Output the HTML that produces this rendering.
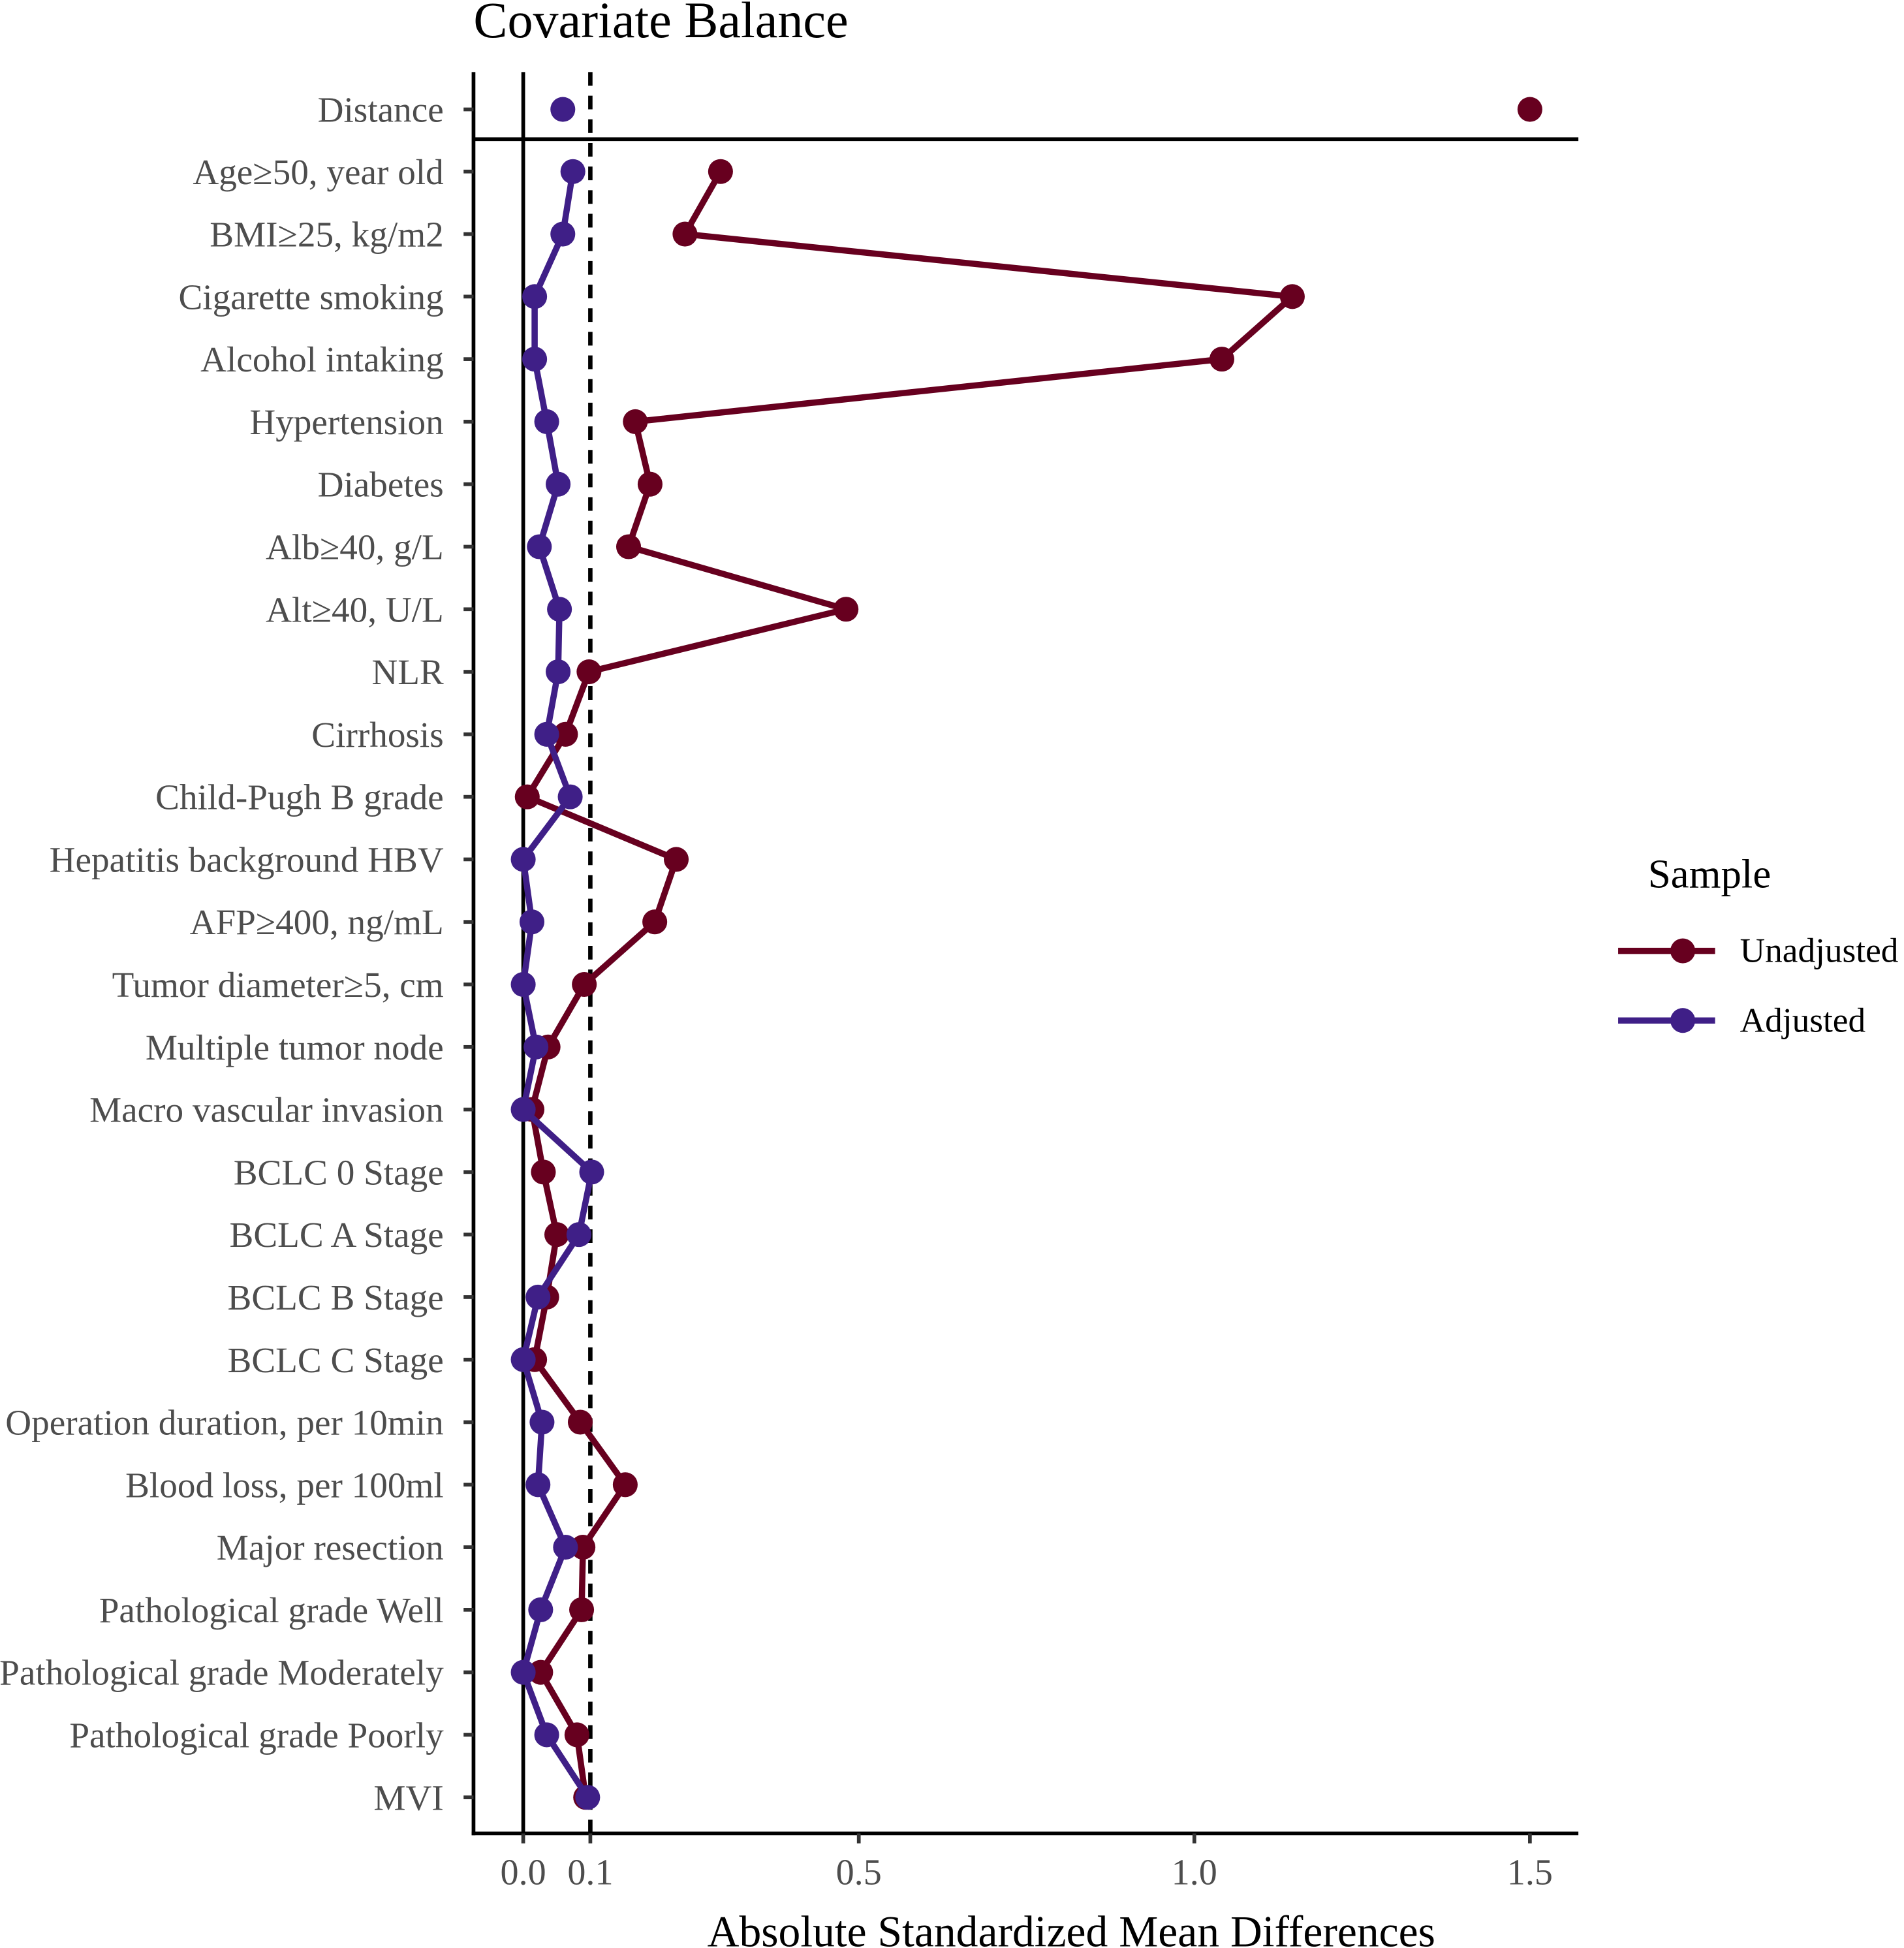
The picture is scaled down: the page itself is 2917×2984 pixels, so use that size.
<!DOCTYPE html>
<html><head><meta charset="utf-8"><style>
html,body{margin:0;padding:0;background:#fff;}
svg{display:block;font-family:"Liberation Serif",serif;}
</style></head><body>
<svg id="chart" width="2917" height="2984" viewBox="0 0 1532 1567.2" xmlns="http://www.w3.org/2000/svg">
<rect x="0" y="0" width="1532" height="1568" fill="#fff"/>
<text x="381" y="30" font-size="41" fill="#000">Covariate Balance</text>
<g id="plot"></g>
<text x="862" y="1566" font-size="35.5" text-anchor="middle" fill="#000">Absolute Standardized Mean Differences</text>
<g>
<text x="1326" y="714" font-size="33" fill="#000">Sample</text>
<g>
<line x1="1302" y1="765" x2="1380" y2="765" stroke="#67001f" stroke-width="5"/>
<circle cx="1354" cy="765" r="10" fill="#67001f"/>
<text x="1400" y="774" font-size="28" fill="#000">Unadjusted</text></g>
<g>
<line x1="1302" y1="821" x2="1380" y2="821" stroke="#3f1f87" stroke-width="5"/>
<circle cx="1354" cy="821" r="10" fill="#3f1f87"/>
<text x="1400" y="830" font-size="28" fill="#000">Adjusted</text></g>
</g>
</svg>
<script>
const categories=["Distance","Age≥50, year old","BMI≥25, kg/m2","Cigarette smoking","Alcohol intaking","Hypertension","Diabetes","Alb≥40, g/L","Alt≥40, U/L","NLR","Cirrhosis","Child-Pugh B grade","Hepatitis background HBV","AFP≥400, ng/mL","Tumor diameter≥5, cm","Multiple tumor node","Macro vascular invasion","BCLC 0 Stage","BCLC A Stage","BCLC B Stage","BCLC C Stage","Operation duration, per 10min","Blood loss, per 100ml","Major resection","Pathological grade Well","Pathological grade Moderately","Pathological grade Poorly","MVI"];
const unadjusted=[1.5,0.294,0.241,1.146,1.041,0.167,0.189,0.157,0.481,0.098,0.063,0.006,0.228,0.196,0.091,0.037,0.013,0.030,0.050,0.035,0.017,0.085,0.152,0.089,0.087,0.026,0.080,0.093];
const adjusted=[0.059,0.074,0.059,0.017,0.017,0.035,0.052,0.024,0.054,0.052,0.035,0.070,0.0,0.013,0.0,0.019,0.0,0.102,0.083,0.022,0.0,0.028,0.022,0.063,0.026,0.0,0.035,0.096];
const xTicks=[0,0.1,0.5,1.0,1.5];
const xTickLabels=["0.0","0.1","0.5","1.0","1.5"];
const threshold=0.1;

(function(){
const NS="http://www.w3.org/2000/svg";
const g=document.getElementById('plot');
const X=v=>421+v*540;
const Y=i=>i===0?88:138+(i-1)*(1446-138)/(categories.length-2);
const plotTop=58,plotBottom=1475,plotLeft=381,plotRight=1270;
function mk(t,a){const e=document.createElementNS(NS,t);for(const k in a)e.setAttribute(k,a[k]);g.appendChild(e);return e;}
let e;
e=mk('line',{x1:X(0),y1:plotTop,x2:X(0),y2:plotBottom,stroke:'#000','stroke-width':3});


e=mk('line',{x1:X(threshold),y1:plotTop,x2:X(threshold),y2:plotBottom,stroke:'#000','stroke-width':3.5,'stroke-dasharray':'11 8'});


e=mk('line',{x1:plotLeft,y1:112,x2:plotRight,y2:112,stroke:'#000','stroke-width':3});


e=mk('line',{x1:plotLeft,y1:plotTop,x2:plotLeft,y2:plotBottom+1.5,stroke:'#000','stroke-width':3});


e=mk('line',{x1:plotLeft-1.5,y1:plotBottom,x2:plotRight,y2:plotBottom,stroke:'#000','stroke-width':3});


categories.forEach((c,i)=>{
  e=mk('line',{x1:373,y1:Y(i),x2:plotLeft,y2:Y(i),stroke:'#333','stroke-width':3});
  
  
  e=mk('text',{x:357,y:Y(i)+10,'font-size':29,'text-anchor':'end',fill:'#4d4d4d'});
  e.textContent=c;
  
  
});
xTicks.forEach((v,i)=>{
  e=mk('line',{x1:X(v),y1:plotBottom,x2:X(v),y2:plotBottom+8,stroke:'#333','stroke-width':3});
  
  
  e=mk('text',{x:X(v),y:1516,'font-size':29.5,'text-anchor':'middle',fill:'#4d4d4d'});
  e.textContent=xTickLabels[i];
  
  
});
function series(vals,color,name){
  const pts=vals.slice(1).map((v,k)=>X(v)+','+Y(k+1)).join(' ');
  e=mk('polyline',{points:pts,fill:'none',stroke:color,'stroke-width':5,'stroke-linejoin':'round'});
  
  
  vals.forEach((v,i)=>{
    e=mk('circle',{cx:X(v),cy:Y(i),r:10,fill:color});
    
    
  });
}
series(unadjusted,'#67001f','unadjusted');
series(adjusted,'#3f1f87','adjusted');
})();
</script>
</body></html>
